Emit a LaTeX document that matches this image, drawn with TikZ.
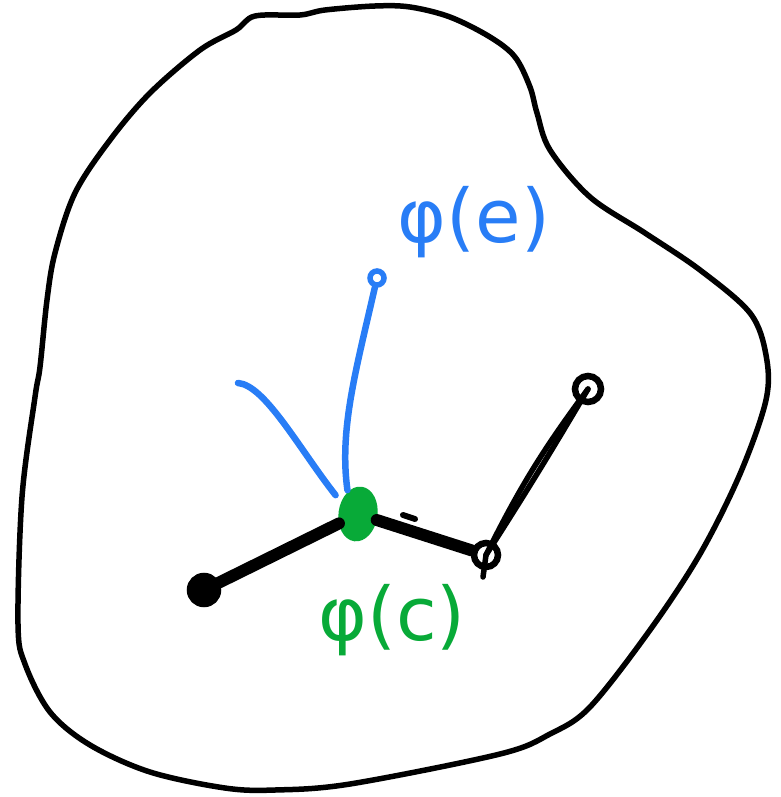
\documentclass[tikz,border=0pt]{standalone}
\usepackage{fontspec}
\newfontfamily\handfont{DejaVu Sans}
\usetikzlibrary{shapes.geometric}
\definecolor{penblue}{RGB}{40,125,246}
\definecolor{pengreen}{RGB}{8,170,56}
\tikzset{
  outline/.style={line width=5.5pt, line join=round},
  blackedge/.style={line width=12pt, line cap=round},
  thinedge/.style={line width=5.5pt, line cap=round},
  vtx/.style={circle, draw=black, line width=6.5pt, inner sep=0pt},
  blueline/.style={penblue, line width=6.5pt, line cap=round},
  hand/.style={font=\handfont\fontsize{74}{74}\selectfont, inner sep=0pt}
}
\begin{document}
\begin{tikzpicture}[x=1pt,y=-1pt]
\useasboundingbox (0,0) rectangle (780,797);
% outer region
\draw[outline] plot[smooth cycle, tension=0.55] coordinates {
 (255,16) (300,15) (325,10) (375,6) (410,7) (450,17) (490,37) (515,57)
 (530,87) (537,113) (550,150) (590,197) (645,233) (700,270) (750,313)
 (766,355) (766,400) (740,474) (700,554) (650,630) (590,707) (550,734)
 (500,754) (350,784) (275,790) (225,788) (150,772) (90,745) (50,712)
 (25,664) (18,624) (22,497) (35,397) (40,367) (47,300) (55,253) (75,193)
 (110,140) (150,93) (200,50) (236,30)};
% nodes
\node[ellipse, fill=pengreen, draw=pengreen, line width=3pt, minimum width=36pt, minimum height=52pt, inner sep=0pt, rotate=-8] (c) at (358,514) {};
\node[vtx, fill=black, minimum size=28pt] (L) at (204,590) {};
\node[vtx, minimum size=24pt] (M) at (486,555) {};
\node[vtx, minimum size=26pt] (R) at (588,389) {};
\node[circle, draw=penblue, line width=5.5pt, minimum size=14pt, inner sep=0pt] (E) at (377,278) {};
\coordinate (s) at (238,383);
% edges
\draw[blackedge] (c) -- (L);
\draw[blackedge] (c) -- (M);
\draw[thinedge] (M.center) to[bend right=1] (R.center);
\draw[thinedge] (M.center) to[bend left=5] (R.center);
\draw[thinedge] (M.center) -- ++(-3,22);
\draw[line width=6pt, line cap=round] (403,515) -- (415,519);
% blue connectors
\draw[blueline] (c.108) ++(-6,2) .. controls (339,430) and (356,370) .. (E);
\draw[blueline] (c.150) ++(-6,-6) .. controls (300,450) and (265,385) .. (s);
% labels
\node[hand, text=penblue] (le) at (474,222) {φ(e)};
\node[hand, text=pengreen] (lc) at (392,620) {φ(c)};
\end{tikzpicture}
\end{document}
